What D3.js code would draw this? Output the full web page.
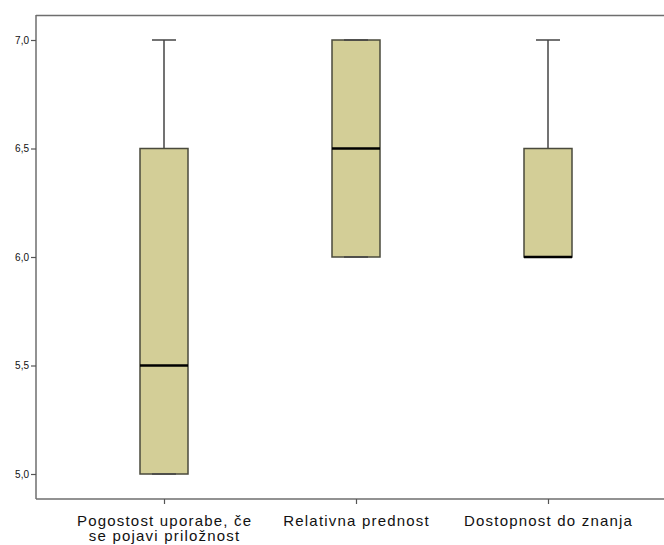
<!DOCTYPE html>
<html>
<head>
<meta charset="utf-8">
<script src="https://cdn.jsdelivr.net/npm/d3@7/dist/d3.min.js"></script>
<style>
  html, body { margin: 0; padding: 0; background: #fff; }
  svg { display: block; font-family: "Liberation Sans", Arial, sans-serif; }
</style>
</head>
<body>
<svg id="chart" width="664" height="545"></svg>
<script>
// Categories (each label may wrap onto two lines)
const categories = [
  ["Pogostost uporabe, če", "se pojavi priložnost"],
  ["Relativna prednost"],
  ["Dostopnost do znanja"]
];
// Five-number summaries per category
const whiskerLow  = [5.0, 6.0, 6.0];
const quartile1   = [5.0, 6.0, 6.0];
const medians     = [5.5, 6.5, 6.0];
const quartile3   = [6.5, 7.0, 6.5];
const whiskerHigh = [7.0, 7.0, 7.0];
const yTicks = [5.0, 5.5, 6.0, 6.5, 7.0];

const svg = d3.select("#chart");
const plotLeft = 36, plotTop = 15, plotBottom = 499, plotRight = 676;

const keys = categories.map((c, i) => i);
const x = d3.scalePoint().domain(keys).range([plotLeft, plotRight]).padding(2 / 3);
const y = d3.scaleLinear().domain([5.0, 7.0]).range([474, 40]);

const fmt = d => d3.format(".1f")(d).replace(".", ",");

// Frame: top line runs off the right side
svg.append("line").attr("x1", plotLeft).attr("x2", 700).attr("y1", plotTop + 0.5).attr("y2", plotTop + 0.5)
  .attr("stroke", "#6e6e6e").attr("stroke-width", 1.5);

// Y axis
const yAxis = svg.append("g").attr("transform", `translate(${plotLeft},0)`)
  .call(d3.axisLeft(y).tickValues(yTicks).tickFormat(fmt).tickSize(5).tickPadding(2));
yAxis.select(".domain").attr("d", `M0,${plotTop}V${plotBottom}`).attr("stroke", "#6e6e6e").attr("stroke-width", 1.5);
yAxis.selectAll(".tick line").attr("stroke", "#555").attr("stroke-width", 1.2);
yAxis.selectAll(".tick text").attr("font-size", 10).attr("fill", "#111")
  .attr("font-family", "'Liberation Sans', Arial, sans-serif");

// X axis
const xAxis = svg.append("g").attr("transform", `translate(0,${plotBottom})`)
  .call(d3.axisBottom(x).tickSize(5).tickFormat(""));
xAxis.select(".domain").attr("d", `M${plotLeft},0H700`).attr("stroke", "#6e6e6e").attr("stroke-width", 1.5);
xAxis.selectAll(".tick line").attr("stroke", "#555").attr("stroke-width", 1.2);

// Category labels, one text element per line
const labels = svg.append("g");
categories.forEach((lines, i) => {
  lines.forEach((ln, j) => {
    labels.append("text").attr("text-anchor", "middle")
      .attr("font-size", 15).attr("letter-spacing", 1.2).attr("fill", "#111")
      .attr("x", x(i) + 0.6).attr("y", 526 + j * 14.5).text(ln);
  });
});

// Boxes
const boxW = 48, capW = 24;
const g = svg.append("g");
keys.forEach(i => {
  const cx = Math.round(x(i));
  // whisker stems
  g.append("line").attr("x1", cx).attr("x2", cx)
    .attr("y1", y(whiskerHigh[i])).attr("y2", y(quartile3[i]))
    .attr("stroke", "#444").attr("stroke-width", 1.5);
  g.append("line").attr("x1", cx).attr("x2", cx)
    .attr("y1", y(quartile1[i])).attr("y2", y(whiskerLow[i]))
    .attr("stroke", "#444").attr("stroke-width", 1.5);
  // box
  g.append("rect")
    .attr("x", cx - boxW / 2).attr("width", boxW)
    .attr("y", y(quartile3[i])).attr("height", y(quartile1[i]) - y(quartile3[i]))
    .attr("fill", "#d3ce97").attr("stroke", "#4a4a3c").attr("stroke-width", 1.5);
  // caps
  [whiskerHigh[i], whiskerLow[i]].forEach(v => {
    g.append("line").attr("x1", cx - capW / 2).attr("x2", cx + capW / 2)
      .attr("y1", y(v)).attr("y2", y(v))
      .attr("stroke", "#444").attr("stroke-width", 1.5);
  });
  // median
  g.append("line").attr("x1", cx - boxW / 2).attr("x2", cx + boxW / 2)
    .attr("y1", y(medians[i])).attr("y2", y(medians[i]))
    .attr("stroke", "#000").attr("stroke-width", 2.5);
});
</script>
</body>
</html>
